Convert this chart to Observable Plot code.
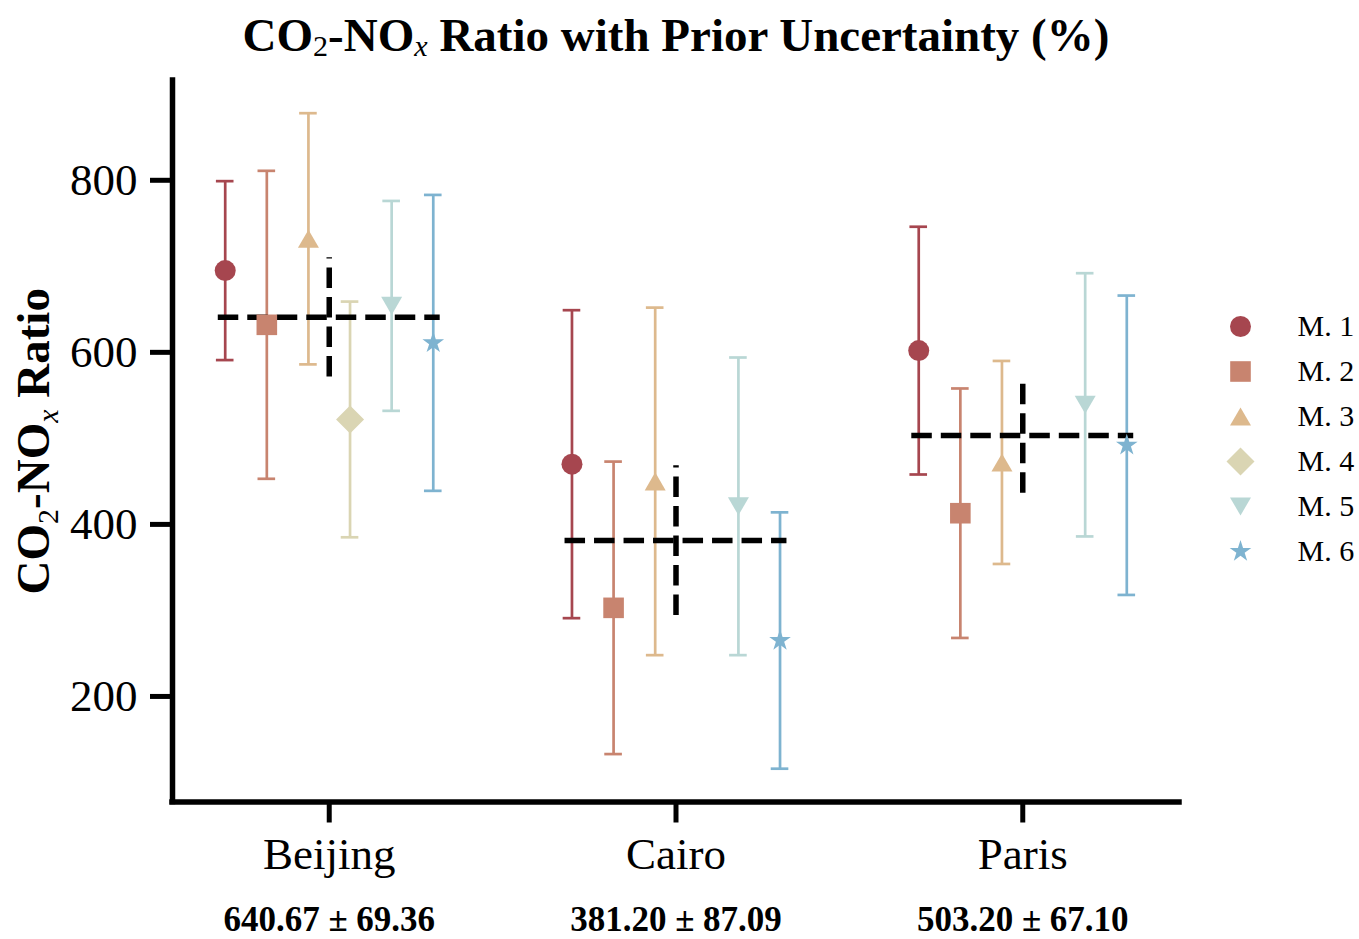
<!DOCTYPE html>
<html>
<head>
<meta charset="utf-8">
<script src="https://cdn.jsdelivr.net/npm/d3@7"></script>
<script src="https://cdn.jsdelivr.net/npm/@observablehq/plot@0.6"></script>
<style>
  body { margin: 0; background: #fff; }
  #wrap { position: relative; width: 1359px; height: 939px; font-family: "Liberation Serif", "Times New Roman", serif; overflow: hidden; }
  #title { position: absolute; left: 0; top: 0; width: 1352px; height: 70px; line-height: 70px; text-align: center;
           font-weight: bold; font-size: 47px; white-space: nowrap; color: #000; }
  #title .s { font-weight: normal; font-size: 0.64em; position: relative; top: 0.18em; line-height: 0; }
  #main { position: absolute; left: 0; top: 70px; }
  #legend { position: absolute; left: 1190px; top: 70px; }
</style>
</head>
<body>
<div id="wrap">
  <div id="title">CO<span class="s">2</span>-NO<span class="s"><i>x</i></span> Ratio with Prior Uncertainty (%)</div>
  <div id="main"></div>
  <div id="legend"></div>
</div>
<script>
// ---------------- data ----------------
const cities = ["Beijing", "Cairo", "Paris"];
const models = ["M. 1", "M. 2", "M. 3", "M. 4", "M. 5", "M. 6"];

const beijingValues = [695, 632, 732, 522, 654, 611];
const beijingErrors = [104, 179, 146, 137, 122, 172];
const cairoValues   = [470, 303, 450, null, 421, 265];
const cairoErrors   = [179, 170, 202, null, 173, 149];
const parisValues   = [602, 413, 472, null, 539, 492];
const parisErrors   = [144, 145, 118, null, 153, 174];

const cityMeans = [640.67, 381.20, 503.20];
const cityStds  = [69.36, 87.09, 67.10];

const yTicks = [200, 400, 600, 800];

// ---------------- styling ----------------
const colors = ["#a6464f", "#c8846f", "#ddb98d", "#dad5b3", "#b9d7d5", "#7eb3d0"];
const FONT = "Liberation Serif, Times New Roman, serif";

const sq = {draw(ctx, size) { const R = Math.sqrt(size / Math.PI); ctx.rect(-R, -R, 2 * R, 2 * R); }};
const triUp = {draw(ctx, size) { const R = Math.sqrt(size / Math.PI), b = 0.86 * R;
  ctx.moveTo(0, -b); ctx.lineTo(R, b); ctx.lineTo(-R, b); ctx.closePath(); }};
const triDown = {draw(ctx, size) { const R = Math.sqrt(size / Math.PI), b = 0.86 * R;
  ctx.moveTo(0, b); ctx.lineTo(R, -b); ctx.lineTo(-R, -b); ctx.closePath(); }};
const diam = {draw(ctx, size) { const R = Math.sqrt(size / Math.PI);
  ctx.moveTo(0, -R); ctx.lineTo(R, 0); ctx.lineTo(0, R); ctx.lineTo(-R, 0); ctx.closePath(); }};
const symbols = ["circle", sq, triUp, diam, triDown, d3.symbolStar];
const sizes = [10.5, 10.3, 10.5, 14, 10.5, 6.8];

// ---------------- tables ----------------
const slot = 0.12;
const valueSets = [beijingValues, cairoValues, parisValues];
const errorSets = [beijingErrors, cairoErrors, parisErrors];
const rows = [];
cities.forEach((c, ci) => models.forEach((m, mi) => {
  const v = valueSets[ci][mi];
  if (v == null) return;
  rows.push({city: c, ci, model: m, mi, x: ci + (mi - 2.5) * slot, value: v, err: errorSets[ci][mi], color: colors[mi]});
}));
const summary = cities.map((c, i) => ({city: c, i, mean: cityMeans[i], std: cityStds[i]}));

const xDomain = [-0.452, 2.452];
const yDomain = [77.3, 916];
const capHalf = 0.0254;
const halfLine = 0.32;

const marks = [
  // error bars
  Plot.ruleX(rows, {x: "x", y1: d => d.value - d.err, y2: d => d.value + d.err, stroke: "color", strokeWidth: 2.7}),
  Plot.ruleY(rows, {y: d => d.value + d.err, x1: d => d.x - capHalf, x2: d => d.x + capHalf, stroke: "color", strokeWidth: 2.7}),
  Plot.ruleY(rows, {y: d => d.value - d.err, x1: d => d.x - capHalf, x2: d => d.x + capHalf, stroke: "color", strokeWidth: 2.7}),
  // mean +- std (dashed)
  Plot.ruleY(summary, {y: "mean", x1: d => d.i - halfLine, x2: d => d.i + halfLine, stroke: "black", strokeWidth: 5.5, strokeDasharray: "20.5,9"}),
  Plot.ruleX(summary, {x: "i", y1: d => d.mean - d.std, y2: d => d.mean + d.std, stroke: "black", strokeWidth: 5.5, strokeDasharray: "20.5,9"}),
  // markers
  ...models.map((m, mi) => Plot.dot(rows.filter(d => d.mi === mi), {x: "x", y: "value", symbol: symbols[mi], r: sizes[mi], fill: colors[mi], stroke: "none"})),
  // spines
  Plot.ruleX([xDomain[0]], {strokeWidth: 5.5, strokeLinecap: "square"}),
  Plot.ruleY([yDomain[0]], {strokeWidth: 5.5, strokeLinecap: "square"}),
  // axes
  Plot.axisY({ticks: yTicks, tickSize: 22, tickPadding: 13, fontSize: 45, strokeWidth: 5, label: null, tickFormat: d => String(d)}),
  Plot.axisX({ticks: [0, 1, 2], tickSize: 21, tickPadding: 14, fontSize: 45, strokeWidth: 5, label: null, tickFormat: i => cities[i]}),
  // mean +- std labels
  Plot.text(summary, {x: "i", text: d => `${d.mean.toFixed(2)} \u00b1 ${d.std.toFixed(2)}`, frameAnchor: "bottom", dy: 129, fontSize: 35, fontWeight: "bold", fill: "black"}),
  // y label
  Plot.text([0], {text: () => "CO2-NOx Ratio", frameAnchor: "left", textAnchor: "middle", lineAnchor: "middle", dx: -139, rotate: -90, fontSize: 47, fontWeight: "bold", fill: "black"})
];

const chart = Plot.plot({
  width: 1190, height: 869,
  marginLeft: 172, marginRight: 11, marginTop: 10, marginBottom: 137.5,
  x: {type: "linear", domain: xDomain},
  y: {type: "linear", domain: yDomain},
  style: {fontFamily: FONT, background: "white", color: "black", overflow: "visible"},
  marks
});

// y label with subscripts
chart.querySelectorAll("text").forEach(t => {
  if (t.textContent === "CO2-NOx Ratio") {
    const ns = "http://www.w3.org/2000/svg";
    t.textContent = "";
    const sh = 9;
    const parts = [
      ["CO", 0, null, null],
      ["2", sh, "normal", null],
      ["-NO", -sh, null, null],
      ["x", sh, "normal", "italic"],
      [" Ratio", -sh, null, null]
    ];
    parts.forEach(([s, dy, w, st]) => {
      const ts = document.createElementNS(ns, "tspan");
      ts.textContent = s;
      if (dy) ts.setAttribute("dy", dy);
      if (w) { ts.setAttribute("font-weight", w); ts.setAttribute("font-size", 30); }
      if (st) ts.setAttribute("font-style", st);
      t.appendChild(ts);
    });
  }
});
document.getElementById("main").appendChild(chart);

// ---------------- legend ----------------
const legend = Plot.plot({
  width: 169, height: 869, margin: 0,
  y: {type: "point", domain: models, range: [256, 481], padding: 0, axis: null},
  style: {fontFamily: FONT, background: "white", color: "black", overflow: "visible"},
  marks: [
    ...models.map((m, mi) => Plot.dot([m], {y: d => d, frameAnchor: "left", dx: 50, symbol: symbols[mi], r: sizes[mi], fill: colors[mi], stroke: "none"})),
    Plot.text(models, {y: d => d, text: d => d, frameAnchor: "left", dx: 107, textAnchor: "start", fontSize: 30, fill: "black"})
  ]
});
document.getElementById("legend").appendChild(legend);
</script>
</body>
</html>
